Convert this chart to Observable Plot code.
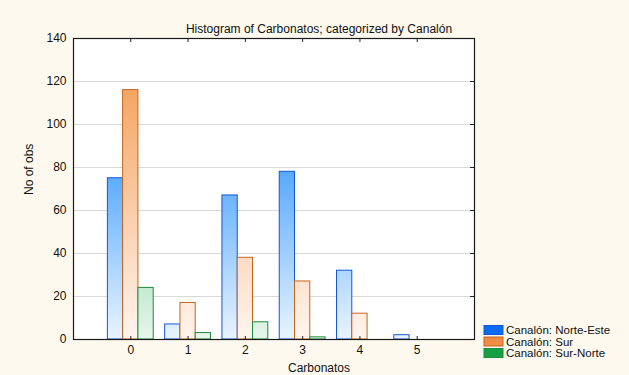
<!DOCTYPE html>
<html>
<head>
<meta charset="utf-8">
<script src="https://cdn.jsdelivr.net/npm/d3@7"></script>
<script src="https://cdn.jsdelivr.net/npm/@observablehq/plot@0.6"></script>
<style>
  html, body { margin: 0; padding: 0; background: #fdf9ee; }
  #chart svg { display: block; }
</style>
</head>
<body>
<div id="chart"></div>
<script>
// Carbonatos classes (x) and counts per Canalón
const categories = [0, 1, 2, 3, 4, 5];
const series = ["Canalón: Norte-Este", "Canalón: Sur", "Canalón: Sur-Norte"];
const norteEste = [75, 7, 67, 78, 32, 2];
const sur = [116, 17, 38, 27, 12, 0];
const surNorte = [24, 3, 8, 1, 0, 0];
const yTicks = [0, 20, 40, 60, 80, 100, 120, 140];

const counts = [norteEste, sur, surNorte];
const strokes = ["#1656d6", "#c2661e", "#1f8a3d"];
const swatches = ["#0a6cf0", "#f08c44", "#14a044"];
// gradient stops per series: [offset, colour], top of plot to baseline
const gradStops = [
  [[0, "#2f86ff"], [0.45, "#5aaaff"], [0.8, "#b6daff"], [1, "#eaf4ff"]],
  [[0, "#f39a50"], [0.17, "#f5a662"], [0.73, "#fbdcc4"], [1, "#fff5ee"]],
  [[0, "#4cc27c"], [0.6, "#9edcb2"], [0.83, "#c4ead0"], [1, "#e6f6ec"]]
];

const groupWidth = 0.8;
const barW = groupWidth / series.length;
const bars = [];
series.forEach((s, i) => {
  categories.forEach((c, j) => {
    bars.push({
      series: i,
      x1: c - groupWidth / 2 + i * barW,
      x2: c - groupWidth / 2 + (i + 1) * barW,
      value: counts[i][j]
    });
  });
});

const W = 629, H = 375;
const mL = 73, mR = 155, mT = 38, mB = 36;
const innerW = W - mL - mR, innerH = H - mT - mB;
const font = "Arial, 'Liberation Sans', sans-serif";
const fs = 12;

const plot = Plot.plot({
  width: W,
  height: H,
  marginLeft: mL,
  marginRight: mR,
  marginTop: mT,
  marginBottom: mB,
  style: { background: "#fdf9ee", fontFamily: font, fontSize: `${fs}px`, color: "#111" },
  x: { domain: [-1, 6], axis: null },
  y: { domain: [0, 140], axis: null },
  marks: [
    Plot.frame({ fill: "white", stroke: "none" }),
    Plot.ruleY(yTicks.slice(1, -1), { stroke: "#d9d9d9", strokeWidth: 1 }),
    ...series.map((s, i) =>
      Plot.rectY(bars.filter(d => d.series === i), {
        x1: "x1", x2: "x2", y: "value",
        fill: `url(#grad${i})`,
        stroke: strokes[i],
        strokeWidth: 1
      })
    ),
    // inward ticks on all four sides
    Plot.tickY(yTicks, { y: d => d, insetLeft: innerW - 4, stroke: "#222" }),
    Plot.tickX(categories, { x: d => d, insetBottom: innerH - 4, stroke: "#222" }),
    Plot.tickX(categories, { x: d => d, insetTop: innerH - 3, stroke: "#222" }),
    Plot.frame({ stroke: "#1a1a1a", strokeWidth: 1.2 }),
    Plot.axisY({ ticks: yTicks, tickSize: 0, tickPadding: 7, fontSize: fs, label: null }),
    Plot.axisX({ ticks: categories, tickFormat: d3.format("d"), tickSize: 0, tickPadding: 6, fontSize: fs, label: null }),
    Plot.text(["Histogram of Carbonatos; categorized by Canalón"], {
      frameAnchor: "top", dx: 45, dy: -9, fontSize: fs, lineAnchor: "middle"
    }),
    Plot.text(["Carbonatos"], {
      frameAnchor: "bottom", dx: 45, dy: 29, fontSize: fs, lineAnchor: "middle"
    }),
    Plot.text(["No of obs"], {
      frameAnchor: "left", rotate: -90, dx: -44, dy: 6, fontSize: fs, lineAnchor: "middle"
    })
  ]
});

const svg = d3.select(plot);
const yRange = plot.scale("y").range;
const defs = svg.insert("defs", ":first-child");
gradStops.forEach((stops, i) => {
  const g = defs.append("linearGradient")
    .attr("id", `grad${i}`)
    .attr("gradientUnits", "userSpaceOnUse")
    .attr("x1", 0).attr("x2", 0)
    .attr("y1", Math.min(...yRange)).attr("y2", Math.max(...yRange));
  stops.forEach(([o, c]) => g.append("stop").attr("offset", o).attr("stop-color", c));
});

// legend in the lower-right corner
const legend = svg.append("g")
  .attr("font-family", font).attr("font-size", 11.5).attr("text-anchor", "start");
series.forEach((s, i) => {
  const row = legend.append("g").attr("transform", `translate(484, ${325.5 + i * 11.5})`);
  row.append("rect").attr("width", 19).attr("height", 9)
    .attr("fill", swatches[i]).attr("stroke", strokes[i]).attr("stroke-width", 1);
  row.append("text").attr("x", 22).attr("y", 4.5).attr("dy", "0.35em")
    .attr("fill", "#111").text(s);
});

document.getElementById("chart").appendChild(plot);
</script>
</body>
</html>
